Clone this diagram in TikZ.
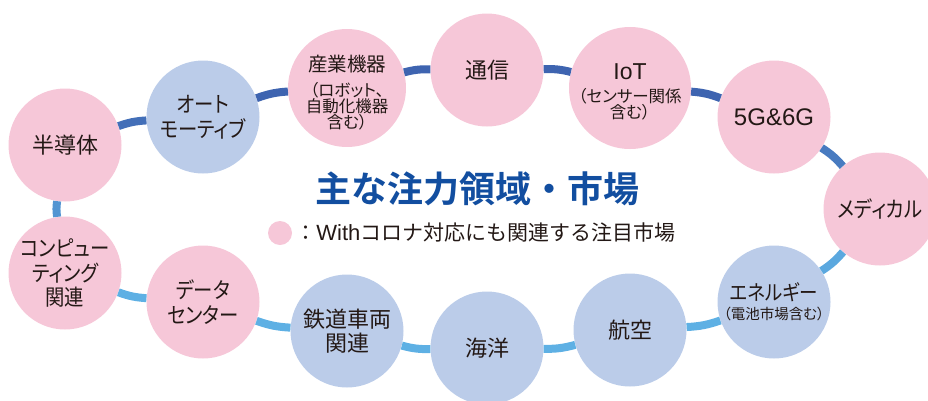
\documentclass[tikz,border=0pt]{standalone}
\usepackage{fontspec}
\setmainfont{Liberation Sans}
\newfontfamily\jp{Noto Sans CJK JP}[RawFeature=+palt]
\newfontfamily\jpkana{Noto Sans CJK JP}[RawFeature=+palt,FakeStretch=0.88]
\newfontfamily\jpfull{Noto Sans CJK JP}
\newfontfamily\jpbold{Noto Sans CJK JP Bold}
\usetikzlibrary{positioning}
\definecolor{pinkfill}{RGB}{246,199,216}
\definecolor{bluefill}{RGB}{187,204,233}
\definecolor{ringdark}{RGB}{62,100,176}
\definecolor{ringlight}{RGB}{94,176,228}
\definecolor{titleblue}{RGB}{18,78,160}
\definecolor{textdark}{RGB}{35,24,21}
\begin{document}
\begin{tikzpicture}
[x=1pt,y=-1pt,
  pinkdecorate/.style={shape=circle,fill=pinkfill,minimum size=113pt,inner sep=0pt,%
    align=center,text=textdark,font=\jp\fontsize{22}{24.5}\selectfont},
  bluedecorate/.style={pinkdecorate,fill=bluefill},
  kanadecorate/.style={font=\jpkana\fontsize{22}{24.5}\selectfont},
  subdecorate/.style={font=\jp\fontsize{16.5}{15.5}\selectfont},
  ringdecorate/.style={line width=8pt,bend left=8}]
\useasboundingbox (0,0) rectangle (928,400);
% fields on the ring
\node (hantai) at (65,145) [pinkdecorate] {半導体};
\node (auto) at (203,117) [bluedecorate,kanadecorate] {オート\\モーティブ};
\node (sangyo) at (347,88) [pinkdecorate,subdecorate]
  {\rule{0pt}{26pt}{\fontsize{19.5}{20}\selectfont 産業機器}\\[8pt]（ロボット、\\自動化機器\\含む）};
\node (tsushin) at (487,70) [pinkdecorate] {通信};
\node (iot) at (630,88) [pinkdecorate,subdecorate]
  {\rule{0pt}{24pt}{\rmfamily\fontsize{23}{23}\selectfont IoT}\\[7pt]（センサー関係\\含む）};
\node (g56) at (774,117) [pinkdecorate] {\rmfamily\fontsize{24}{24}\selectfont 5G\&6G};
\node (medical) at (880,209) [pinkdecorate,kanadecorate] {メディカル};
\node (energy) at (774,302) [bluedecorate,font=\jp\fontsize{14.5}{15}\selectfont]
  {{\jpkana\fontsize{21}{21}\selectfont エネルギー}\\[4pt]（電池市場含む）};
\node (koku) at (630,330) [bluedecorate] {航空};
\node (kaiyo) at (487,348) [bluedecorate] {海洋};
\node (tetsudo) at (347,331) [bluedecorate] {鉄道車両\\関連};
\node (data) at (203,302) [pinkdecorate,kanadecorate] {データ\\センター};
\node (comp) at (65,273) [pinkdecorate,kanadecorate] {コンピュー\\ティング\\関連};
% ring between the fields
\path
(hantai) edge[ringdecorate,ringdark!85!ringlight] (auto)
(auto) edge[ringdecorate,ringdark] (sangyo)
(sangyo) edge[ringdecorate,ringdark] (tsushin)
(tsushin) edge[ringdecorate,ringdark] (iot)
(iot) edge[ringdecorate,ringdark] (g56)
(g56) edge[ringdecorate,ringdark!70!ringlight] (medical)
(medical) edge[ringdecorate,ringdark!10!ringlight] (energy)
(energy) edge[ringdecorate,ringlight] (koku)
(koku) edge[ringdecorate,ringlight] (kaiyo)
(kaiyo) edge[ringdecorate,ringlight] (tetsudo)
(tetsudo) edge[ringdecorate,ringlight] (data)
(data) edge[ringdecorate,ringlight] (comp)
(comp) edge[ringdecorate,ringdark!35!ringlight] (hantai);
% title and legend
\node (title) at (477,189) [text=titleblue,font=\jpbold\fontsize{36}{36}\selectfont] {主な注力領域・市場};
\node (legenddot) at (280,233) [shape=circle,fill=pinkfill,minimum size=24pt,inner sep=0pt] {};
\node (legend) [right=3pt of legenddot,inner sep=0pt,text=textdark,font=\jpfull\fontsize{21}{21}\selectfont]
  {：{\rmfamily\fontsize{22}{22}\selectfont With}コロナ対応にも関連する注目市場};
\end{tikzpicture}
\end{document}
